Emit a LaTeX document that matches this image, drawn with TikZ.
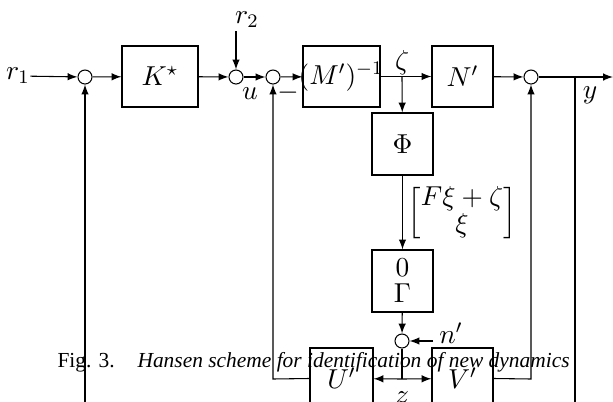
\RequirePackage{fix-cm}
\documentclass[tikz,border=0pt]{standalone}
\usepackage{amsmath}
\usepackage{fontspec}
\newfontfamily\capfont{Liberation Serif}
\usetikzlibrary{arrows}
\begin{document}
\begin{tikzpicture}[x=0.42pt,y=-0.42pt,>=latex,line width=0.45pt,
  mfont/.style={font=\fontsize{11.5}{11}\selectfont},
  blk/.style args={#1x#2}{draw, mfont, minimum width=#1*0.42pt, minimum height=#2*0.42pt, inner sep=0pt},
  sumc/.style={draw, circle, minimum size=14*0.42pt, inner sep=0pt},
  lbl/.style={inner sep=0pt, mfont},
  capstyle/.style={anchor=base west, inner sep=0pt}]
\useasboundingbox (0,0) rectangle (613,402);
\clip (0,0) rectangle (613,402);
% nodes
\node[lbl] (r1) at (18,76) {$r_1$};
\node[sumc] (c1) at (85,77) {};
\node[blk=76x61] (K) at (160,76.5) {$K^\star$};
\node[sumc] (c2) at (236,77) {};
\node[lbl] (r2) at (247,20) {$r_2$};
\coordinate (r2s) at (236,31);
\node[lbl] (u) at (250,94) {$u$};
\node[sumc] (c3) at (273,77) {};
\node[lbl] (minus) at (288,93) {$-$};
\node[blk=77x61] (M) at (341.5,76.5) {};
\node[lbl] (Mlbl) at (341,77) {$(M')^{-1}$};
\coordinate (zb) at (402,77);
\node[lbl] (zeta) at (402,63) {$\zeta$};
\node[blk=61x61] (N) at (462.5,76.5) {$N'$};
\node[sumc] (c4) at (531,77) {};
\coordinate (yb) at (575,77);
\coordinate (out) at (613,77);
\node[lbl] (y) at (590,95) {$y$};
\node[blk=61x62] (Phi) at (402.5,144) {$\Phi$};
\node[lbl] (vec) at (462,213) {$\begin{bmatrix}F\xi+\zeta\\ \xi\end{bmatrix}$};
\node[blk=61x62, align=center] (G) at (402.5,281) {$0$\\$\Gamma$};
\node[sumc] (c5) at (402,341) {};
\coordinate (nps) at (433,341);
\node[lbl] (np) at (451,333) {$n'$};
\node[blk=63x61] (U) at (341.5,378.5) {$U'$};
\node[blk=61x61] (V) at (462.5,378.5) {$V'$};
\coordinate (zj) at (402,379);
\node[lbl] (z) at (402,398) {$z$};
\coordinate (lf) at (273,379);
\coordinate (rf) at (531,379);
\coordinate (b1) at (85,412);
\coordinate (b2) at (575,412);
% connectors
\draw[->] (r1) -- (c1);
\draw[->] (c1) -- (K);
\draw[->] (K) -- (c2);
\draw[->] (r2s) -- (c2);
\draw[->] (c2) -- (c3);
\draw[->] (c3) -- (M);
\draw[->] (M) -- (N);
\draw[->] (zb) -- (Phi);
\draw[->] (Phi) -- (G);
\draw[->] (G) -- (c5);
\draw[->] (nps) -- (c5);
\draw (c5) -- (zj);
\draw[->] (zj) -- (U);
\draw[->] (zj) -- (V);
\draw[->] (U.west) -- (lf) -- (c3);
\draw[->] (V.east) -- (rf) -- (c4);
\draw[->] (N) -- (c4);
\draw[->] (c4) -- (out);
\draw (yb) -- (b2);
\draw[->] (b1) -- (c1);
% caption
\node[capstyle, font=\capfont\fontsize{9}{11}\selectfont] (fig) at (57,367) {Fig. 3.};
\node[capstyle, font=\capfont\itshape\fontsize{9}{11}\selectfont] (cap) at (137,367) {Hansen scheme for identification of new dynamics};
\end{tikzpicture}
\end{document}
